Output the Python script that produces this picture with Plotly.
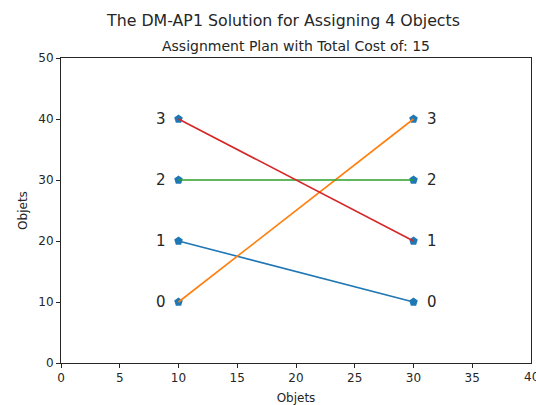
import plotly.graph_objects as go

# Data
left_x = 10
right_x = 30
left_y = [10, 20, 30, 40]      # objects 0..3 on the left
right_y = [10, 20, 30, 40]     # objects 0..3 on the right
labels = ["0", "1", "2", "3"]
assignment = [3, 0, 2, 1]      # left object i -> right object assignment[i]
line_colors = ["#ff7f0e", "#1f77b4", "#2ca02c", "#d62728"]
x_ticks = [0, 5, 10, 15, 20, 25, 30, 35, 40]
y_ticks = [0, 10, 20, 30, 40, 50]
title = "The DM-AP1 Solution for Assigning 4 Objects"
subtitle = "Assignment Plan with Total Cost of: 15"

fig = go.Figure()

# markers
fig.add_trace(go.Scatter(
    x=[left_x] * len(left_y) + [right_x] * len(right_y),
    y=left_y + right_y,
    mode="markers",
    marker=dict(symbol="pentagon", size=9, color="#1f77b4"),
    showlegend=False, hoverinfo="skip"))

# lines (draw order: blue 1->0, orange 0->3, green 2->2, red 3->1)
order = [1, 0, 2, 3]
for i in order:
    fig.add_trace(go.Scatter(
        x=[left_x, right_x],
        y=[left_y[i], right_y[assignment[i]]],
        mode="lines",
        line=dict(color=line_colors[i], width=1.6),
        showlegend=False, hoverinfo="skip"))

annotations = []
for y, lab in zip(left_y, labels):
    annotations.append(dict(x=left_x, y=y, xref="x", yref="y", text=lab,
                            showarrow=False, xanchor="right", xshift=-11,
                            font=dict(size=15, color="#262626")))
for y, lab in zip(right_y, labels):
    annotations.append(dict(x=right_x, y=y, xref="x", yref="y", text=lab,
                            showarrow=False, xanchor="left", xshift=11,
                            font=dict(size=15, color="#262626")))
# last x tick label (partly cut off by the page edge, as in the reference)
annotations.append(dict(x=x_ticks[-1], y=0, xref="x", yref="paper", text=str(x_ticks[-1]),
                        showarrow=False, xanchor="center", yanchor="top", yshift=-5,
                        font=dict(size=12, color="#262626")))
# titles (paper coords relative to plot area: top=58px, height=305px, left=61px, width=470px)
annotations.append(dict(x=(283 - 61) / 470, y=(363 - 20) / 305, xref="paper", yref="paper",
                        text=title, showarrow=False, xanchor="center", yanchor="middle",
                        font=dict(size=15.8, color="#262626")))
annotations.append(dict(x=0.5, y=(363 - 46) / 305, xref="paper", yref="paper",
                        text=subtitle, showarrow=False, xanchor="center", yanchor="middle",
                        font=dict(size=14, color="#262626")))

axis_common = dict(showgrid=False, zeroline=False, showline=True, linecolor="#262626",
                   linewidth=1, mirror=True, ticks="outside", ticklen=4,
                   tickcolor="#262626", tickfont=dict(size=12, color="#262626"),
                   automargin=False)

fig.update_layout(
    width=536, height=405,
    margin=dict(l=61, r=5, t=58, b=42),
    paper_bgcolor="white", plot_bgcolor="white",
    font=dict(family="DejaVu Sans", color="#262626"),
    annotations=annotations,
    xaxis=dict(range=[0, 40], tickvals=x_ticks[:-1],
               title=dict(text="Objets", font=dict(size=12), standoff=10), **axis_common),
    yaxis=dict(range=[0, 50], tickvals=y_ticks,
               title=dict(text="Objets", font=dict(size=12), standoff=8), **axis_common),
)

fig.write_html("out.html")
